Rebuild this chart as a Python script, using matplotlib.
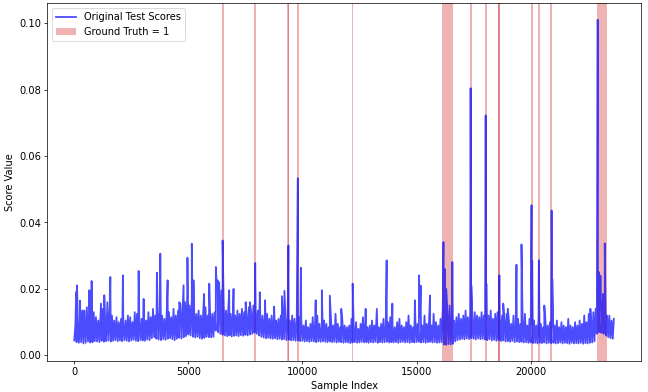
import numpy as np
import matplotlib
matplotlib.use("Agg")
import matplotlib.pyplot as plt

plt.rcParams["font.size"] = 11

# scores are written in thousandths (value * 1000)
n_samples = 23700
step = 100

# lower edge of the dense band, at idx 0, 100, 200, ...
band_low = [
    4.5, 4.0, 3.8, 4.0, 3.6, 3.8, 4.2, 3.9, 4.0, 4.3,
    4.2, 4.0, 4.4, 4.1, 4.3, 4.5, 4.2, 4.4, 4.6, 4.3,
    4.5, 4.3, 4.6, 4.4, 4.2, 4.5, 4.7, 4.4, 4.3, 4.6,
    4.5, 4.4, 4.8, 4.6, 5.2, 5.5, 5.0, 4.8, 4.6, 4.9,
    4.7, 5.0, 5.2, 4.9, 4.6, 5.0, 5.3, 5.1, 5.5, 5.8,
    6.3, 6.0, 5.6, 5.4, 5.6, 5.2, 5.0, 5.3, 5.6, 5.5,
    5.4, 5.6, 7.5, 7.0, 6.5, 6.2, 6.0, 5.8, 6.0, 5.7,
    5.9, 6.0, 5.8, 6.1, 5.9, 6.2, 6.0, 6.3, 6.5, 6.8,
    6.5, 6.0, 5.6, 5.4, 5.2, 5.3, 5.1, 5.0, 5.2, 4.9,
    5.0, 4.8, 4.9, 4.6, 4.7, 4.5, 4.6, 4.4, 4.5, 4.3,
    4.4, 4.2, 4.3, 4.1, 4.3, 4.2, 4.0, 4.2, 4.1, 4.3,
    4.1, 4.0, 4.2, 4.0, 4.1, 3.9, 4.1, 4.0, 3.8, 4.0,
    3.9, 3.7, 3.9, 4.0, 3.8, 3.9, 4.1, 3.9, 4.0, 3.8,
    4.0, 3.9, 4.1, 3.8, 4.0, 3.9, 4.0, 4.1, 3.9, 4.0,
    3.9, 4.0, 3.8, 4.0, 4.1, 3.9, 4.0, 3.8, 4.0, 3.9,
    4.0, 4.1, 3.9, 4.0, 3.8, 4.0, 4.1, 3.9, 4.0, 3.8,
    3.9, 4.0, 3.3, 3.2, 3.4, 3.3, 3.5, 4.2, 4.6, 4.8,
    5.0, 4.8, 5.1, 4.9, 5.2, 5.0, 4.8, 5.1, 4.9, 5.0,
    4.8, 4.6, 4.9, 4.5, 4.7, 4.4, 4.6, 4.3, 4.5, 4.2,
    4.3, 4.1, 4.4, 4.0, 4.2, 4.0, 4.1, 3.9, 4.0, 3.8,
    3.9, 3.7, 3.8, 3.6, 3.8, 3.7, 3.9, 3.6, 3.8, 3.7,
    3.8, 3.6, 3.7, 3.9, 3.6, 3.8, 3.7, 3.5, 3.8, 3.6,
    3.7, 3.6, 3.8, 3.5, 3.7, 3.6, 3.8, 3.9, 4.2, 6.5,
    7.0, 6.8, 6.5, 6.0, 5.5, 5.2, 5.0,
]

# upper edge of the dense band, at idx 50, 150, 250, ...
band_high = [
    9.5, 12.0, 10.0, 13.5, 11.0, 14.5, 12.5, 15.0, 13.0, 11.5,
    10.5, 12.5, 14.0, 11.0, 16.0, 13.5, 12.0, 10.5, 11.5, 10.0,
    11.0, 9.5, 10.5, 12.0, 11.5, 10.0, 13.0, 12.5, 10.5, 11.0,
    12.5, 10.5, 13.0, 11.5, 14.0, 12.0, 15.0, 13.5, 12.0, 11.0,
    12.5, 13.0, 11.5, 14.0, 12.0, 13.5, 15.5, 14.0, 16.0, 18.0,
    15.0, 17.0, 14.0, 12.5, 13.5, 12.0, 13.0, 14.5, 12.0, 13.0,
    12.5, 13.0, 20.0, 22.0, 19.5, 15.0, 13.5, 14.0, 12.5, 13.0,
    12.0, 13.5, 12.5, 14.0, 13.0, 12.0, 14.5, 13.0, 15.0, 14.0,
    13.5, 12.5, 12.0, 11.5, 12.5, 11.0, 12.0, 11.5, 10.5, 11.0,
    12.0, 11.5, 13.0, 11.0, 10.5, 12.0, 11.0, 10.0, 11.5, 10.5,
    9.0, 10.5, 8.5, 9.5, 11.5, 9.0, 12.0, 9.5, 8.5, 10.5,
    9.5, 8.5, 11.0, 9.0, 12.5, 9.5, 8.5, 10.5, 9.0, 8.5,
    9.0, 11.0, 8.5, 10.0, 8.0, 9.5, 11.5, 9.5, 8.5, 9.0,
    10.5, 9.0, 12.0, 8.5, 9.5, 11.0, 8.5, 10.0, 11.5, 9.0,
    8.5, 10.0, 11.0, 9.0, 8.5, 10.0, 12.0, 9.0, 8.5, 10.5,
    9.5, 11.5, 9.0, 12.0, 9.5, 10.5, 9.0, 12.5, 10.0, 9.0,
    11.0, 14.0, 16.0, 13.0, 15.0, 12.0, 10.5, 11.5, 12.5, 11.0,
    12.0, 13.5, 11.5, 12.5, 11.0, 13.0, 12.0, 11.5, 13.0, 12.0,
    11.5, 12.0, 13.5, 11.0, 12.5, 13.0, 11.5, 12.0, 11.0, 12.5,
    10.5, 9.5, 12.0, 9.0, 11.0, 9.5, 10.5, 12.5, 9.0, 11.0,
    9.5, 10.5, 9.0, 11.5, 9.5, 8.5, 10.5, 9.0, 10.0, 8.5,
    9.0, 10.5, 8.5, 10.0, 9.0, 8.5, 11.0, 9.0, 8.5, 10.0,
    9.0, 10.5, 9.5, 12.0, 10.0, 12.5, 11.0, 13.0, 14.0, 17.0,
    18.0, 15.5, 14.0, 12.0, 11.5, 10.5, 11.0,
]

# isolated peaks: sample index and height
spike_idx = [
    80, 120, 250, 440, 660, 760, 1170, 1315, 1580, 2130, 2820, 3040,
    3620, 3770, 4090, 4600, 4790, 4960, 5150, 5225, 5690, 5915,
    6205, 6280, 6500, 6790, 6980, 7510, 7700, 7930, 8130, 8360, 8760,
    9100, 9210, 9385, 9797, 9930, 10580, 10850, 11200, 11700, 12200,
    12770, 13260, 13690, 13940, 14930, 15110, 15180, 15590,
    16180, 16240, 16300, 16570, 17370, 17400, 18030, 18060, 18630,
    18800, 19000, 19380, 19600, 20040, 20070, 20360, 20600, 20920,
    20950, 22620, 22940, 23000, 23060, 23180, 23250, 23450,
]
spike_val = [
    19.1, 21.1, 16.5, 13.5, 19.6, 22.4, 15.6, 18.1, 23.6, 24.1, 25.4, 17.0,
    24.9, 30.6, 22.6, 16.0, 21.1, 29.4, 33.6, 22.6, 18.5, 21.6,
    26.6, 22.6, 34.6, 19.6, 20.0, 16.0, 16.0, 27.8, 19.0, 16.6, 14.7,
    17.8, 19.4, 33.1, 53.3, 26.4, 16.6, 19.6, 18.0, 14.0, 21.6,
    14.0, 14.0, 28.6, 15.6, 16.6, 24.1, 21.0, 18.0,
    34.1, 26.0, 20.0, 28.1, 80.4, 21.0, 72.2, 21.6, 24.1,
    15.6, 14.0, 27.3, 33.4, 45.2, 28.4, 28.6, 15.0, 43.6,
    23.0, 14.0, 101.0, 25.0, 24.0, 18.5, 33.7, 12.0,
]

# ground truth = 1 regions
gt_start = [6485, 7885, 9335, 9355, 9760, 12150, 16130, 17330, 17990,
            18570, 18590, 20000, 20320, 20865, 22920]
gt_end = [6570, 7975, 9405, 9410, 9840, 12235, 16615, 17415, 18075,
          18650, 18665, 20085, 20410, 20950, 23330]

low_x = np.arange(0, n_samples, step)
high_x = low_x + step // 2
x = np.concatenate([low_x, high_x, spike_idx])
y = np.concatenate([band_low, band_high, spike_val]) / 1000.0
order = np.argsort(x, kind="stable")
x, y = x[order], y[order]

fig, ax = plt.subplots(figsize=(10, 6.05), dpi=64.8)
ax.plot(x, y, color="blue", alpha=0.7, linewidth=2.0, label="Original Test Scores")
for i in range(len(gt_start)):
    ax.axvspan(gt_start[i], gt_end[i], facecolor="tab:red", alpha=0.35, linewidth=0,
               label="Ground Truth = 1" if i == 0 else None)

ax.set_xlabel("Sample Index")
ax.set_ylabel("Score Value")
ax.legend(loc="upper left")
fig.subplots_adjust(left=0.073, right=0.989, top=0.991, bottom=0.079)
fig.savefig("out.png", dpi=64.8)
